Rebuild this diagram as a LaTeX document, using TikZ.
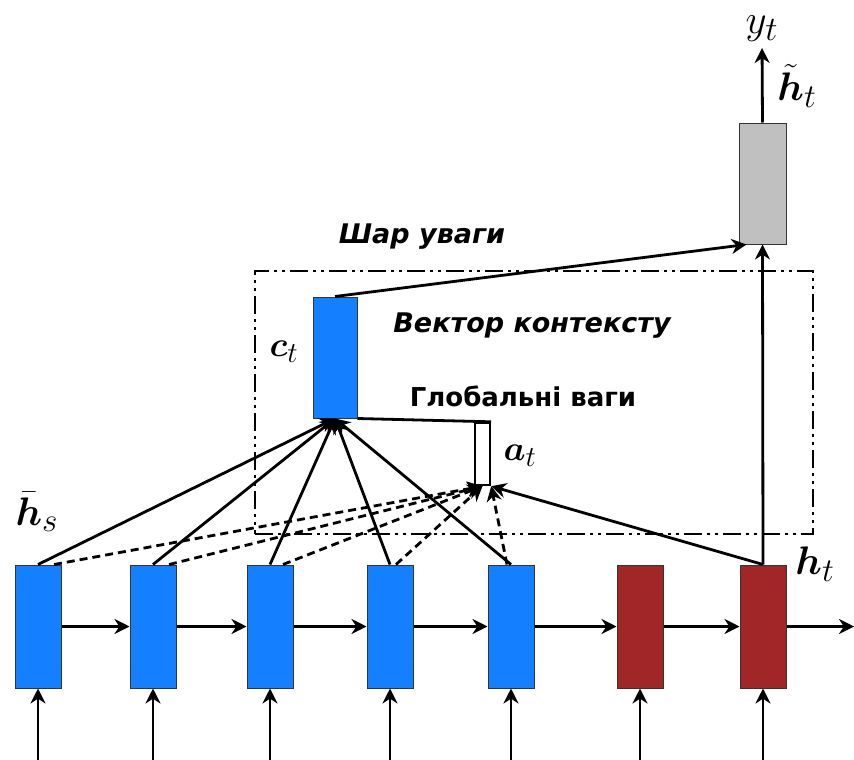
\documentclass[tikz,border=0pt]{standalone}
\usepackage{amsmath}
\usepackage{graphicx}
\usepackage{fontspec}
\newfontfamily\lblfont{DejaVu Sans}
\usetikzlibrary{arrows.meta}
\definecolor{srcblue}{RGB}{20,128,255}
\definecolor{tgtred}{RGB}{160,38,40}
\definecolor{outgray}{RGB}{192,192,192}
\newcommand{\biglab}[2][1.3]{\scalebox{#1}{$#2$}}
\begin{document}
\begin{tikzpicture}[x=1pt,y=-1pt,
  cell/.style={draw=black!80, line width=1pt, minimum width=46pt, minimum height=123pt, inner sep=0pt},
  src/.style={cell, fill=srcblue},
  tgt/.style={cell, fill=tgtred},
  conn/.style={line width=2.8pt, -{Stealth[length=15pt,width=15pt]}},
  dconn/.style={conn, dash pattern=on 8pt off 5pt},
  plain/.style={line width=2.8pt},
  mlab/.style={font=\Huge, inner sep=0pt},
  tlab/.style={font=\lblfont\bfseries\fontsize{26}{30}\selectfont, inner sep=0pt},
  tilab/.style={font=\lblfont\bfseries\itshape\fontsize{27}{31}\selectfont, inner sep=0pt},
  layerframe/.style={draw, line width=2.8pt, dash pattern=on 18pt off 5pt on 3pt off 5pt on 3pt off 5pt}
]
\useasboundingbox (0,0) rectangle (854,760);
% attention layer frame
\node[layerframe, minimum width=558pt, minimum height=263pt, inner sep=0pt] (layer) at (534,402.5) {};
% recurrent cells
\node[src] (s1) at (38,626.5) {};
\node[src] (s2) at (153,626.5) {};
\node[src] (s3) at (270,626.5) {};
\node[src] (s4) at (390,626.5) {};
\node[src] (s5) at (511,626.5) {};
\node[tgt] (t6) at (640,626.5) {};
\node[tgt] (t7) at (763,626.5) {};
% context vector, output and align weights
\node[cell, fill=srcblue, minimum width=44pt, minimum height=121pt] (ct) at (335,357.5) {};
\node[cell, fill=outgray, minimum width=47pt, minimum height=121pt] (ht) at (762.5,183.5) {};
\node[draw, line width=2.4pt, fill=white, minimum width=15pt, minimum height=62pt, inner sep=0pt] (at) at (482.5,454) {};
% labels
\node[mlab, anchor=south] (yt) at (762,42) {\biglab[1.65]{y_t}};
\node[mlab] (htl) at (797,86) {\biglab[1.6]{\tilde{\boldsymbol{h}}_t}};
\node[mlab] (ctl) at (284,352) {\biglab[1.4]{\boldsymbol{c}_t}};
\node[mlab] (atl) at (520,456) {\biglab[1.4]{\boldsymbol{a}_t}};
\node[mlab] (hsl) at (37,512) {\biglab[1.6]{\bar{\boldsymbol{h}}_s}};
\node[mlab] (htlab) at (815,564) {\biglab[1.6]{\boldsymbol{h}_t}};
\node[tilab] (lt1) at (422,237) {Шар уваги};
\node[tilab] (lt2) at (532,326) {Вектор контексту};
\node[tlab] (lt3) at (523,396) {Глобальні ваги};
% horizontal recurrence
\draw[conn] (s1.east) -- (s2.west);
\draw[conn] (s2.east) -- (s3.west);
\draw[conn] (s3.east) -- (s4.west);
\draw[conn] (s4.east) -- (s5.west);
\draw[conn] (s5.east) -- (t6.west);
\draw[conn] (t6.east) -- (t7.west);
\coordinate (out) at (854,626.5);
\draw[conn] (t7.east) -- (out);
% inputs
\foreach \n/\x in {s1/38,s2/153,s3/270,s4/390,s5/511,t6/640,t7/763}{
  \coordinate (in-\n) at (\x,760);
  \draw[conn] (in-\n) -- (\n.south);
}
% dashed align lines
\draw[dconn] ([xshift=16pt]s1.north) -- (at.south);
\draw[dconn] ([xshift=16pt]s2.north) -- (at.south);
\draw[dconn] ([xshift=13pt]s3.north) -- (at.south);
\draw[dconn] ([xshift=6pt]s4.north) -- (at.south);
\draw[dconn] ([xshift=-4pt]s5.north) -- (at.south east);
% solid to context
\foreach \n in {s1,s2,s3,s4,s5}{
  \draw[conn] (\n.north) -- (ct.south);
}
\draw[conn] (t7.north) -- (at.south east);
\draw[plain] (ct.south east) -- (at.north east);
\draw[conn] (t7.north) -- (ht.south);
\draw[conn] (ct.north) -- ([xshift=8pt]ht.south west);
\draw[conn, shorten >=6pt] (ht.north) -- (yt.south);
\end{tikzpicture}
\end{document}
